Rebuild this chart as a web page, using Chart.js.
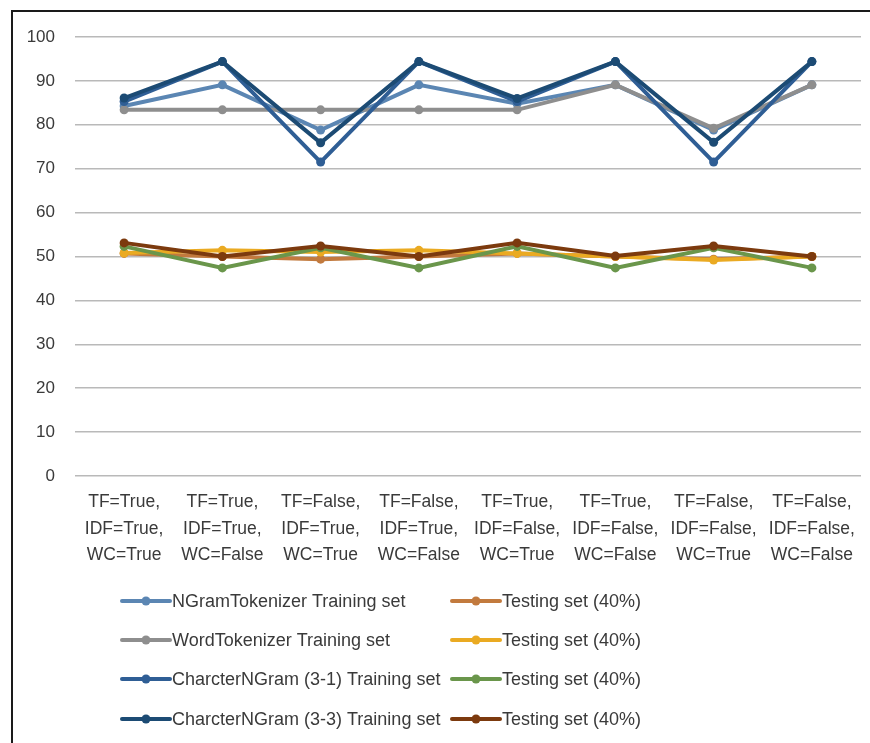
<!DOCTYPE html>
<html>
<head>
<meta charset="utf-8">
<script src="https://cdn.jsdelivr.net/npm/chart.js@4.4.1/dist/chart.umd.min.js"></script>
<style>
  html, body { margin: 0; padding: 0; background: #ffffff; overflow: hidden; }
  #frame { position: absolute; left: 11px; top: 10px; width: 900px; height: 800px;
           border: 2px solid #1a1a1a; box-sizing: border-box; }
  #c { position: absolute; left: 0; top: 0; }
</style>
</head>
<body>
<div id="frame"></div>
<canvas id="c" width="870" height="743"></canvas>
<script>
// Feature settings (TF / IDF / word count) for each run
const categories = [
  ['TF=True,', 'IDF=True,', 'WC=True'],
  ['TF=True,', 'IDF=True,', 'WC=False'],
  ['TF=False,', 'IDF=True,', 'WC=True'],
  ['TF=False,', 'IDF=True,', 'WC=False'],
  ['TF=True,', 'IDF=False,', 'WC=True'],
  ['TF=True,', 'IDF=False,', 'WC=False'],
  ['TF=False,', 'IDF=False,', 'WC=True'],
  ['TF=False,', 'IDF=False,', 'WC=False']
];

// Accuracy (%) per tokenizer, training set and 40% testing set
const ngramTrain   = [84.3, 89.1, 78.8, 89.1, 84.8, 89.1, 78.8, 89.1];
const ngramTest    = [50.7, 50.0, 49.4, 50.0, 50.7, 50.0, 49.4, 50.0];
const wordTrain    = [83.4, 83.4, 83.4, 83.4, 83.4, 89.1, 79.2, 89.1];
const wordTest     = [50.8, 51.4, 51.0, 51.4, 50.7, 50.0, 49.2, 50.0];
const char31Train  = [85.3, 94.4, 71.5, 94.4, 85.3, 94.4, 71.5, 94.4];
const char31Test   = [52.3, 47.4, 52.0, 47.4, 52.3, 47.4, 52.0, 47.4];
const char33Train  = [86.1, 94.4, 75.9, 94.4, 86.0, 94.4, 76.0, 94.4];
const char33Test   = [53.1, 50.0, 52.4, 50.0, 53.1, 50.1, 52.4, 50.0];

const yTicks = { min: 0, max: 100, step: 10 };

const seriesNames = [
  'NGramTokenizer Training set', 'Testing set (40%)',
  'WordTokenizer Training set', 'Testing set (40%)',
  'CharcterNGram (3-1) Training set', 'Testing set (40%)',
  'CharcterNGram (3-3) Training set', 'Testing set (40%)'
];
const seriesData = [ngramTrain, ngramTest, wordTrain, wordTest,
                    char31Train, char31Test, char33Train, char33Test];
const seriesColors = ['#5b86b3', '#c27a3e', '#8e8e8e', '#eaaa22',
                      '#2f5e95', '#6a964b', '#1c4b74', '#7c3a0e'];

const FONT = '"Liberation Sans", Arial, sans-serif';

const datasets = seriesData.map((d, i) => ({
  label: seriesNames[i],
  data: d,
  borderColor: seriesColors[i],
  backgroundColor: seriesColors[i],
  pointBackgroundColor: seriesColors[i],
  pointBorderColor: seriesColors[i],
  borderWidth: 4,
  pointRadius: 4.5,
  pointBorderWidth: 0,
  tension: 0,
  fill: false,
  // later series are painted over earlier ones
  order: seriesData.length - i
}));

// Two-column legend below the axis labels
const legendPlugin = {
  id: 'gridLegend',
  afterDraw(chart) {
    const ctx = chart.ctx;
    const rows = [601, 640, 679, 719];
    const cols = [{ x0: 122, x1: 170, tx: 172 }, { x0: 452, x1: 500, tx: 502 }];
    ctx.save();
    ctx.font = '18px ' + FONT;
    ctx.textBaseline = 'middle';
    ctx.textAlign = 'left';
    chart.data.datasets.forEach((ds, i) => {
      const r = Math.floor(i / 2), c = i % 2;
      const y = rows[r], col = cols[c];
      ctx.strokeStyle = ds.borderColor;
      ctx.lineWidth = 4;
      ctx.lineCap = 'round';
      ctx.beginPath();
      ctx.moveTo(col.x0, y);
      ctx.lineTo(col.x1, y);
      ctx.stroke();
      ctx.fillStyle = ds.borderColor;
      ctx.beginPath();
      ctx.arc((col.x0 + col.x1) / 2, y, 4.5, 0, Math.PI * 2);
      ctx.fill();
      ctx.fillStyle = '#3a3a3a';
      ctx.fillText(ds.label, col.tx, y + 1);
    });
    ctx.restore();
  }
};

new Chart(document.getElementById('c'), {
  type: 'line',
  data: { labels: categories, datasets },
  plugins: [legendPlugin],
  options: {
    responsive: false,
    animation: false,
    devicePixelRatio: 1,
    layout: { padding: { left: 0, top: 37, right: 9, bottom: 0 } },
    plugins: { legend: { display: false }, tooltip: { enabled: false } },
    scales: {
      x: {
        offset: true,
        grid: { display: false },
        border: { display: false },
        ticks: {
          autoSkip: false, maxRotation: 0, padding: 5,
          color: '#3a3a3a',
          font: { family: FONT, size: 17.5, lineHeight: 1.52 }
        },
        afterFit(s) { s.height = 267; }
      },
      y: {
        min: yTicks.min, max: yTicks.max,
        grid: { color: '#b9b9b9', lineWidth: 1.5, drawTicks: false },
        border: { display: false },
        ticks: {
          stepSize: yTicks.step, padding: 20,
          color: '#3a3a3a',
          font: { family: FONT, size: 17 }
        },
        afterFit(s) { s.width = 75; }
      }
    }
  }
});
</script>
</body>
</html>
